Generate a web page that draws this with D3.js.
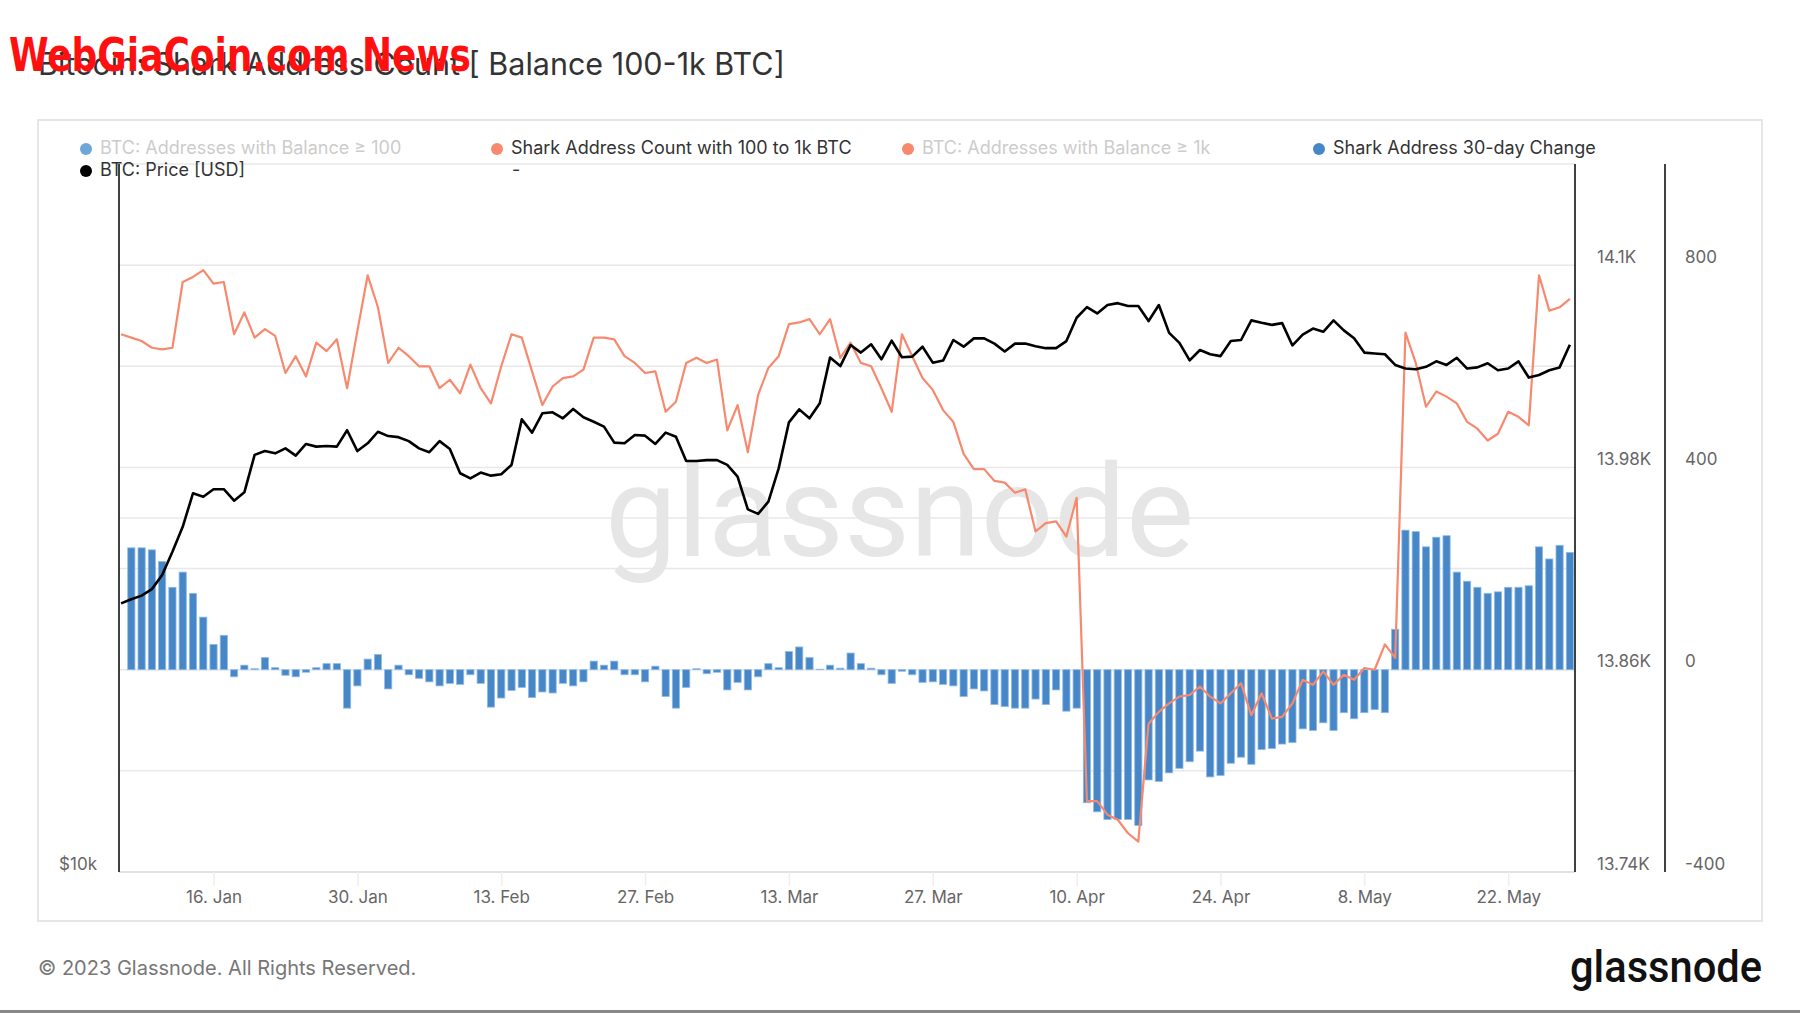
<!DOCTYPE html>
<html>
<head>
<meta charset="utf-8">
<script src="https://cdn.jsdelivr.net/npm/d3@7"></script>
<style>
  html, body { margin: 0; padding: 0; background: #fff; }
  svg { display: block; font-family: Inter, Roboto, "Noto Sans", sans-serif; }
</style>
</head>
<body>
<div id="chart"></div>
<script>
// ── Data (daily, 2023) ──────────────────────────────────────
const firstDay = '2023-01-07';
const lastDay  = '2023-05-28';

// BTC price, thousands of USD, Jan 7 → May 28
const priceK = [
  16.92, 17.06, 17.18, 17.40, 17.89, 18.72, 19.66, 20.99, 20.85, 21.16, 21.16, 20.69, 21.03,
  22.63, 22.80, 22.70, 22.92, 22.60, 23.12, 23.00, 23.03, 23.00, 23.75, 22.80, 23.15,
  23.68, 23.48, 23.43, 23.25, 22.92, 22.75, 23.25, 22.89, 21.83, 21.61, 21.86, 21.73, 21.79,
  22.19, 24.26, 23.64, 24.55, 24.60, 24.31, 24.76, 24.36, 24.15, 23.92, 23.18, 23.15, 23.53,
  23.50, 23.12,
  23.64, 23.45, 22.36, 22.36, 22.40, 22.40, 22.19, 21.69, 20.34, 20.16, 20.65, 22.04, 24.12,
  24.74, 24.31, 25.04, 27.38, 26.93, 28.06, 27.65, 28.10, 27.29, 28.30, 27.40, 27.43, 27.97,
  27.11, 27.22, 28.34, 27.97, 28.43,
  28.43, 28.14, 27.71, 28.14, 28.14, 28.00, 27.89, 27.89, 28.28, 29.60, 30.22, 29.85, 30.35,
  30.46, 30.29, 30.29, 29.41, 30.35, 28.74, 28.18, 27.23, 27.79, 27.56, 27.46, 28.28, 28.34,
  29.45, 29.31, 29.19, 29.29,
  28.04, 28.64, 28.98, 28.80, 29.45, 28.88, 28.44, 27.65, 27.60, 27.56, 26.99, 26.80, 26.76,
  26.89, 27.18, 26.99, 27.37, 26.80, 26.86, 27.08, 26.71, 26.80, 27.18, 26.33, 26.46, 26.71,
  26.86, 28.08
];

// Shark address count (100–1k BTC), Jan 7 → May 28
const sharkCount = [
  14059, 14057, 14055, 14051, 14050, 14051, 14090, 14093, 14097, 14089, 14090, 14059, 14072,
  14057, 14062, 14058, 14036, 14046, 14034, 14054, 14049, 14056, 14027, 14061, 14094,
  14075, 14042, 14051, 14046, 14040, 14040, 14027, 14032, 14024, 14041, 14027, 14018, 14040,
  14059, 14057, 14037, 14017, 14028, 14033, 14034, 14038, 14057, 14057, 14056, 14046, 14042,
  14036, 14037,
  14013, 14019, 14042, 14045, 14042, 14044, 14002, 14017, 13989, 14023, 14039, 14046, 14065,
  14066, 14068, 14059, 14068, 14045, 14054, 14042, 14040, 14027, 14013, 14059, 14046, 14033,
  14026, 14014, 14007, 13988, 13979,
  13979, 13972, 13971, 13965, 13967, 13942, 13947, 13948, 13939, 13962, 13782, 13782, 13774,
  13771, 13763, 13758, 13828, 13835, 13840, 13844, 13845, 13850, 13844, 13840, 13846, 13852,
  13833, 13846, 13831, 13832,
  13840, 13854, 13851, 13859, 13851, 13857, 13854, 13861, 13860, 13875, 13867, 14060, 14042,
  14016, 14025, 14022, 14018, 14007, 14003, 13996, 14000, 14013, 14010, 14005, 14094, 14073,
  14075, 14080
];

// Shark address 30-day change, Jan 8 → May 28
const change30d = [
  241, 241, 237, 214, 163, 193, 151, 104, 50, 68, -14, 9, 2, 24, 4, -11, -14, -5, 4, 12, 12,
  -76, -32, 21,
  30, -38, 9, -10, -17, -24, -32, -27, -29, -10, -27, -74, -56, -41, -35, -55, -44, -46, -27,
  -32, -24, 17, 9, 17, -10, -10, -24, 7,
  -53, -76, -35, 2, -8, -5, -40, -25, -40, -14, 12, 4, 36, 45, 24, 1, 9, 3, 33, 12, 3, -10,
  -27, -3, -10, -25, -24, -29, -32, -53, -38,
  -42, -69, -73, -76, -76, -58, -69, -40, -82, -76, -263, -281, -296, -296, -296, -308, -218,
  -221, -204, -195, -182, -161, -212, -209, -185, -173, -187, -158, -156, -147,
  -144, -117, -120, -105, -120, -85, -97, -85, -79, -85, 80, 276, 273, 243, 262, 265, 193,
  175, 163, 151, 154, 163, 163, 166, 243, 219, 246, 232
];

const xTickDays   = ['2023-01-16', '2023-01-30', '2023-02-13', '2023-02-27', '2023-03-13',
                     '2023-03-27', '2023-04-10', '2023-04-24', '2023-05-08', '2023-05-22'];
const countTicks  = [13740, 13860, 13980, 14100];
const changeTicks = [-400, 0, 400, 800];
const priceTicks  = [10];
const legendRow1  = ['BTC: Addresses with Balance \u2265 100', 'Shark Address Count with 100 to 1k BTC',
                     'BTC: Addresses with Balance \u2265 1k', 'Shark Address 30-day Change'];
const legendRow2  = ['BTC: Price [USD]', '-'];

// ── Layout ──────────────────────────────────────────────────
const W = 1800, H = 1013;
const plot = { left: 119, right: 1575, top: 164, bottom: 872 };
const axis2X = 1665;

const ORANGE = '#f7896e';
const BLUE   = '#4787c8';
const GRID   = '#e8e8e8';
const LABEL  = '#666';

const parse = d3.utcParse('%Y-%m-%d');
const days = d3.utcDay.range(parse(firstDay), d3.utcDay.offset(parse(lastDay), 1));
const lineData = days.map((d, i) => ({ date: d, price: priceK[i], count: sharkCount[i] }));
const barData  = days.slice(1).map((d, i) => ({ date: d, value: change30d[i] }));

const svg = d3.select('#chart').append('svg')
  .attr('width', W).attr('height', H);

// ── Scales ──────────────────────────────────────────────────
const dayMs = 864e5;
const x = d3.scaleUtc()
  .domain([+days[0] - 0.2 * dayMs, +days[days.length - 1] + 0.5 * dayMs])
  .range([plot.left, plot.right]);

const yPrice = d3.scaleLog().domain([10, 40]).range([plot.bottom, plot.top]);
const yCount = d3.scaleLinear().domain([13740, 14160]).range([plot.bottom, plot.top]);
const yChange = d3.scaleLinear().domain([-400, 1000]).range([plot.bottom, plot.top]);

// ── Frame ───────────────────────────────────────────────────
svg.append('rect')
  .attr('x', 38).attr('y', 120)
  .attr('width', 1724).attr('height', 801)
  .attr('fill', 'none')
  .attr('stroke', '#e6e6e6')
  .attr('stroke-width', 2);

// ── Gridlines ───────────────────────────────────────────────
const gridG = svg.append('g');
gridG.selectAll('line.g1')
  .data(d3.range(-200, 1001, 200))
  .join('line')
  .attr('x1', plot.left).attr('x2', plot.right)
  .attr('y1', d => yChange(d)).attr('y2', d => yChange(d))
  .attr('stroke', GRID).attr('stroke-width', 1.5);

gridG.append('line')
  .attr('x1', plot.left).attr('x2', plot.right)
  .attr('y1', yPrice(20)).attr('y2', yPrice(20))
  .attr('stroke', GRID).attr('stroke-width', 1.5);

// x-axis baseline + ticks
svg.append('line')
  .attr('x1', plot.left).attr('x2', plot.right)
  .attr('y1', plot.bottom).attr('y2', plot.bottom)
  .attr('stroke', '#d8d8d8').attr('stroke-width', 1.5);

const xAxisG = svg.append('g')
  .attr('transform', `translate(0,${plot.bottom})`)
  .call(d3.axisBottom(x)
    .tickValues(xTickDays.map(parse))
    .tickFormat(d3.utcFormat('%-d. %b'))
    .tickSize(14)
    .tickPadding(5));
xAxisG.select('.domain').remove();
xAxisG.selectAll('.tick line').attr('stroke', '#eeeeee').attr('stroke-width', 1.5);
xAxisG.selectAll('text')
  .attr('fill', LABEL)
  .attr('font-size', '17px')
  .attr('font-family', 'Inter, Roboto, sans-serif');

// ── Background watermark ────────────────────────────────────
svg.append('text')
  .attr('x', 605).attr('y', 556)
  .attr('textLength', 589)
  .attr('lengthAdjust', 'spacingAndGlyphs')
  .attr('fill', '#e6e6e6')
  .attr('font-size', '128px')
  .attr('font-family', 'Roboto, sans-serif')
  .text('glassnode');

// ── Bars: 30-day change ─────────────────────────────────────
svg.append('g')
  .selectAll('rect')
  .data(barData)
  .join('rect')
  .attr('x', d => x(d.date) - 3.6)
  .attr('width', 7.2)
  .attr('y', d => yChange(Math.max(0, d.value)))
  .attr('height', d => Math.abs(yChange(d.value) - yChange(0)))
  .attr('fill', BLUE)
  .attr('stroke', '#8fbbe8')
  .attr('stroke-width', 0.8);

// ── Shark count line ────────────────────────────────────────
svg.append('path')
  .datum(lineData)
  .attr('fill', 'none')
  .attr('stroke', ORANGE)
  .attr('stroke-width', 2.2)
  .attr('stroke-linejoin', 'round')
  .attr('d', d3.line().x(d => x(d.date)).y(d => yCount(d.count)));

// ── Price line ──────────────────────────────────────────────
svg.append('path')
  .datum(lineData)
  .attr('fill', 'none')
  .attr('stroke', '#000')
  .attr('stroke-width', 2.6)
  .attr('stroke-linejoin', 'round')
  .attr('d', d3.line().x(d => x(d.date)).y(d => yPrice(d.price)));

// ── Axis lines ──────────────────────────────────────────────
[plot.left, plot.right, axis2X].forEach(ax => {
  svg.append('line')
    .attr('x1', ax).attr('x2', ax)
    .attr('y1', plot.top).attr('y2', plot.bottom)
    .attr('stroke', '#000').attr('stroke-width', 1.5);
});

// tick labels
const tickText = sel => sel
  .attr('fill', LABEL)
  .attr('font-size', '17px')
  .attr('font-family', 'Inter, Roboto, sans-serif')
  .attr('dominant-baseline', 'middle');

svg.append('g').selectAll('text')
  .data(countTicks).join('text')
  .attr('x', plot.right + 22)
  .attr('y', d => yCount(d) - 7)
  .text(d => `${+(d / 1000).toFixed(2)}K`)
  .call(tickText);

svg.append('g').selectAll('text')
  .data(changeTicks).join('text')
  .attr('x', axis2X + 20)
  .attr('y', d => yChange(d) - 7)
  .text(d => d)
  .call(tickText);

svg.append('g').selectAll('text')
  .data(priceTicks).join('text')
  .attr('x', plot.left - 22)
  .attr('y', d => yPrice(d) - 7)
  .attr('text-anchor', 'end')
  .text(d => `$${d}k`)
  .call(tickText);

// ── Legend ──────────────────────────────────────────────────
const legend = svg.append('g')
  .attr('font-size', '18px')
  .attr('font-family', 'Inter, Roboto, sans-serif');

const row1 = [
  { x: 86,   color: '#6fa6d8', on: false },
  { x: 497,  color: ORANGE,    on: true },
  { x: 908,  color: ORANGE,    on: false },
  { x: 1319, color: BLUE,      on: true }
];
row1.forEach((it, i) => {
  legend.append('circle').attr('cx', it.x).attr('cy', 149).attr('r', 6).attr('fill', it.color);
  legend.append('text')
    .attr('x', it.x + 14).attr('y', 149)
    .attr('dominant-baseline', 'middle')
    .attr('fill', it.on ? '#333' : '#cccccc')
    .text(legendRow1[i]);
});
legend.append('circle').attr('cx', 86).attr('cy', 171).attr('r', 6).attr('fill', '#000');
legend.append('text')
  .attr('x', 100).attr('y', 171)
  .attr('dominant-baseline', 'middle')
  .attr('fill', '#333')
  .text(legendRow2[0]);
legend.append('text')
  .attr('x', 512).attr('y', 171)
  .attr('dominant-baseline', 'middle')
  .attr('fill', '#333')
  .text(legendRow2[1]);

// ── Title ───────────────────────────────────────────────────
svg.append('text')
  .attr('x', 38).attr('y', 75)
  .attr('fill', '#333')
  .attr('font-size', '30.5px')
  .attr('font-family', 'Inter, Roboto, sans-serif')
  .text('Bitcoin: Shark Address Count [ Balance 100-1k BTC]');

// overlaid red site stamp
svg.append('text')
  .attr('x', 9).attr('y', 71)
  .attr('textLength', 462)
  .attr('lengthAdjust', 'spacingAndGlyphs')
  .attr('fill', '#ff1010')
  .attr('font-size', '47px')
  .attr('font-weight', 'bold')
  .attr('font-family', '"Liberation Sans Narrow", "DejaVu Sans Condensed", sans-serif')
  .text('WebGiaCoin.com News');

// ── Footer ──────────────────────────────────────────────────
svg.append('text')
  .attr('x', 38).attr('y', 970)
  .attr('dominant-baseline', 'middle')
  .attr('fill', '#777')
  .attr('font-size', '20px')
  .attr('font-family', 'Inter, Roboto, sans-serif')
  .text('\u00a9 2023 Glassnode. All Rights Reserved.');

svg.append('text')
  .attr('x', 1570).attr('y', 982)
  .attr('textLength', 192)
  .attr('lengthAdjust', 'spacingAndGlyphs')
  .attr('fill', '#111')
  .attr('font-size', '44px')
  .attr('font-weight', 500)
  .attr('font-family', 'Roboto, sans-serif')
  .text('glassnode');

svg.append('rect')
  .attr('x', 0).attr('y', 1010)
  .attr('width', W).attr('height', 3)
  .attr('fill', '#888');
</script>
</body>
</html>
